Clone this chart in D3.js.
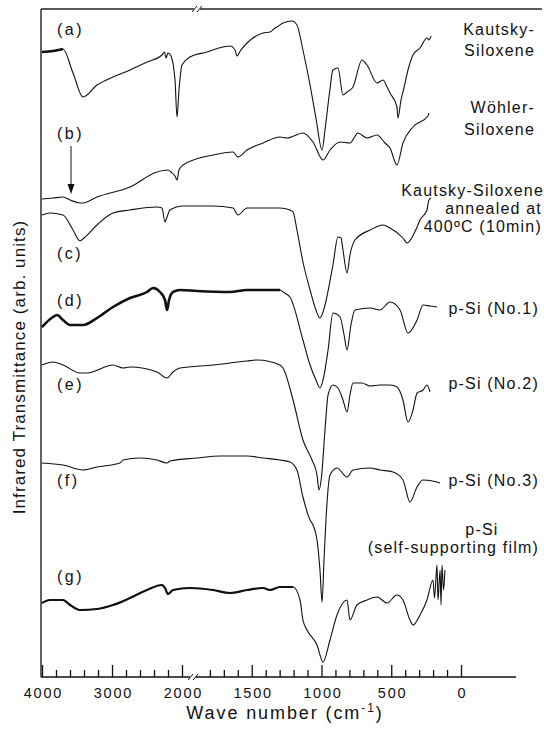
<!DOCTYPE html>
<html>
<head>
<meta charset="utf-8">
<script src="https://cdn.jsdelivr.net/npm/d3@7"></script>
<style>
  body { margin: 0; background: #fff; }
  svg text { font-family: "Liberation Sans", Arial, Helvetica, sans-serif; fill: #111; }
  .spec { fill: none; stroke: #111; stroke-linejoin: round; }
</style>
</head>
<body>
<div class="chart"></div>
<script>
const width = 544;
const height = 733;

// spectra: [wave number (cm-1), transmittance (arb. units)]
const specA = [[4000,62.5],[3843,62.6],[3700,62.8],[3557,60.4],[3414,58.0],[3214,59.2],[2986,60.0],[2743,60.7],[2500,61.5],
  [2286,62.2],[2250,62.5],[2229,61.9],[2200,62.4],[2157,62.1],[2100,59.7],[2071,56.0],[2043,58.7],[2000,61.2],[1943,62.0],
  [1821,62.5],[1706,63.0],[1656,63.1],[1620,62.7],[1606,62.1],[1578,62.7],[1534,63.4],[1419,64.4],[1369,64.5],[1333,64.9],
  [1319,65.0],[1276,65.4],[1212,65.6],[1176,65.2],[1133,62.7],[1082,59.2],[1040,55.9],[996,52.7],[975,54.7],[940,58.7],
  [918,60.7],[882,60.9],[846,58.2],[817,58.5],[774,59.0],[710,61.7],[674,61.2],[602,59.4],[559,59.7],[530,59.0],[509,58.4],
  [459,57.0],[452,55.9],[430,57.7],[409,58.9],[380,60.7],[344,62.2],[294,62.9],[244,63.9],[230,63.7],[215,64.1]];
const specB = [[4000,47.8],[3843,47.9],[3700,48.0],[3600,47.7],[3457,47.4],[3414,47.4],[3214,48.0],[2743,49.0],[2357,50.5],
  [2200,50.7],[2157,50.5],[2100,50.1],[2071,49.7],[2043,50.7],[1993,51.2],[1778,52.2],[1634,52.5],[1599,52.0],[1534,52.7],
  [1419,53.4],[1298,54.0],[1247,53.9],[1133,54.4],[1061,53.5],[989,51.7],[939,52.7],[867,53.5],[796,53.4],[738,54.4],
  [674,53.9],[602,54.2],[545,53.4],[509,52.9],[459,51.2],[416,53.4],[344,55.0],[237,56.1],[230,56.4]];
const specC = [[4000,46.2],[3886,46.4],[3700,46.2],[3557,44.7],[3457,43.6],[3400,43.9],[3214,45.2],[2986,46.4],[2743,46.7],
  [2357,47.0],[2286,46.9],[2243,45.5],[2229,45.7],[2171,46.7],[1993,47.1],[1778,47.1],[1634,46.9],[1599,46.2],[1534,46.9],
  [1298,46.9],[1226,46.7],[1204,46.5],[1176,44.7],[1133,41.5],[1082,38.7],[1040,36.7],[1011,35.9],[989,36.5],[918,41.2],
  [882,44.0],[860,43.9],[846,42.7],[817,40.4],[796,42.2],[760,43.7],[652,44.7],[559,45.2],[509,44.9],[416,43.9],[387,43.4],
  [315,45.0],[294,45.7],[244,46.7],[230,47.7],[215,47.9]];
const specD = [[4000,35.0],[3843,36.0],[3786,36.2],[3700,35.7],[3600,35.2],[3414,35.2],[3214,35.9],[2986,37.0],[2743,37.9],
  [2500,38.5],[2414,38.9],[2314,38.5],[2243,37.7],[2214,36.7],[2185,37.7],[2129,38.5],[2029,38.7],[1892,38.6],[1656,38.5],
  [1534,38.7],[1298,38.7],[1276,38.5],[1226,38.0],[1133,33.7],[1082,31.2],[1040,29.7],[1011,28.9],[989,29.7],[953,32.7],
  [918,36.4],[867,36.0],[838,34.2],[817,32.7],[789,35.2],[760,36.7],[652,36.9],[581,36.7],[509,37.5],[437,36.7],[380,34.4],
  [315,35.7],[272,37.2],[222,37.1],[172,37.0]];
const specE = [[4000,31.2],[3843,31.5],[3700,31.2],[3457,30.4],[3357,30.4],[2986,31.2],[2843,30.9],[2743,31.0],[2357,30.5],
  [2214,29.9],[2129,30.5],[2029,30.9],[1778,31.2],[1534,31.6],[1462,31.7],[1298,31.2],[1276,30.9],[1204,27.7],[1133,23.7],
  [1068,21.7],[1032,20.2],[1018,18.7],[1000,20.0],[975,24.7],[953,28.2],[918,29.2],[882,28.9],[846,27.7],[817,26.5],
  [796,28.2],[774,29.4],[710,29.4],[652,29.1],[581,29.2],[509,29.2],[459,29.0],[416,27.7],[380,25.5],[344,26.7],[315,28.4],
  [272,28.7],[244,29.2],[222,28.5]];
const specF = [[4000,21.4],[3700,21.2],[3414,20.7],[3214,21.0],[2886,21.4],[2843,21.7],[2600,21.9],[2357,21.7],[2214,21.4],
  [2171,21.6],[1892,21.9],[1728,22.1],[1534,22.1],[1419,21.9],[1298,21.7],[1226,21.5],[1176,20.7],[1133,18.0],[1082,15.7],
  [1061,15.2],[1032,13.7],[1011,10.7],[996,7.5],[982,11.7],[968,15.7],[939,20.2],[889,20.9],[817,20.0],[774,20.7],[652,20.9],
  [581,20.7],[487,20.5],[416,19.7],[366,17.5],[315,19.0],[272,19.7],[172,19.5],[150,19.4]];
const specG = [[4000,7.4],[3886,7.7],[3700,7.7],[3600,7.2],[3457,6.7],[3214,6.8],[2986,7.2],[2743,7.9],[2500,8.7],[2286,9.2],
  [2243,8.9],[2200,8.3],[2129,8.7],[1943,8.9],[1778,8.7],[1656,8.4],[1534,8.7],[1419,8.9],[1369,8.7],[1298,9.0],[1204,9.0],
  [1154,7.7],[1133,5.7],[1104,4.7],[1032,3.2],[989,1.5],[939,3.7],[889,6.2],[817,7.7],[796,5.7],[746,7.2],[674,7.7],[602,8.0],
  [530,7.4],[459,8.2],[416,7.7],[366,5.7],[344,5.2],[294,6.2],[244,7.7],[201,9.7],[190,7.9],[172,11.2],[165,7.7],[150,10.7],
  [143,7.2],[136,11.2],[125,8.7],[115,10.7]];

const spectra = [specA, specB, specC, specD, specE, specF, specG];
const letters = ['(a)', '(b)', '(c)', '(d)', '(e)', '(f)', '(g)'];
const majorTicks = [4000, 3000, 2000, 1500, 1000, 500, 0];
const minorTicks = [3800, 3600, 3400, 3200, 2800, 2600, 2400, 2200, 1800, 1700, 1600, 1400, 1300, 1200, 1100,
  900, 800, 700, 600, 400, 300, 200, 100];

// broken axis: 4000-2000 compressed, 2000-0 expanded
const xScale = d3.scaleLinear().domain([4000, 2000, 0]).range([42, 182, 461]);
const yScale = d3.scaleLinear().domain([0, 67]).range([677, 7]);

const svg = d3.select('.chart').append('svg')
    .attr('width', width)
    .attr('height', height)
    .attr('viewBox', `0 0 ${width} ${height}`);

const line = d3.line()
    .x(d => xScale(d[0]))
    .y(d => yScale(d[1]))
    .curve(d3.curveMonotoneX);

// noisy parts are drawn heavier
const heavy = [
    { s: 0, from: 4000, to: 3700, w: 2.6 },
    { s: 3, from: 4000, to: 1290, w: 2.6 },
    { s: 6, from: 4000, to: 1200, w: 2.2 }
];

svg.selectAll('.spec')
    .data(spectra)
    .enter()
    .append('path')
    .attr('class', 'spec')
    .attr('stroke-width', 1.1)
    .attr('d', d => line(d));

heavy.forEach(h => {
    const pts = spectra[h.s].filter(p => p[0] <= h.from && p[0] >= h.to);
    svg.append('path').attr('class', 'spec')
        .attr('stroke-width', h.w)
        .attr('d', line(pts));
});

/*      frame       */
const yTop = yScale(67) + 2;
const yBot = yScale(0);
svg.append('line').attr('x1', 41).attr('x2', 41).attr('y1', yTop).attr('y2', yBot)
    .attr('stroke', '#222').attr('stroke-width', 1.4);
svg.append('line').attr('x1', 41).attr('x2', 542).attr('y1', yTop).attr('y2', yTop)
    .attr('stroke', '#222').attr('stroke-width', 1.4);

/*      x-axis      */
const axisMajor = d3.axisBottom(xScale).tickValues(majorTicks).tickSize(-12).tickFormat(d3.format('d'));
const axisMinor = d3.axisBottom(xScale).tickValues(minorTicks).tickSize(-7).tickFormat('');
const gMaj = svg.append('g').attr('transform', `translate(0, ${yBot})`).call(axisMajor);
const gMin = svg.append('g').attr('transform', `translate(0, ${yBot})`).call(axisMinor);
[gMaj, gMin].forEach(g => {
    g.select('.domain').remove();
    g.selectAll('line').attr('stroke', '#111').attr('stroke-width', 1.3);
});
gMaj.selectAll('text')
    .attr('font-size', 14.5).attr('fill', '#111')
    .attr('letter-spacing', 1.8).attr('dx', 0.9)
    .attr('dy', 0).attr('y', 21);
svg.append('line').attr('x1', 41).attr('x2', 516).attr('y1', yBot).attr('y2', yBot)
    .attr('stroke', '#111').attr('stroke-width', 1.4);

// break marks
function breakMark(x, y) {
    svg.append('rect').attr('x', x - 3).attr('y', y - 2).attr('width', 6).attr('height', 4).attr('fill', '#fff');
    [-2.5, 2.5].forEach(o => {
        svg.append('line').attr('x1', x + o - 2.5).attr('y1', y + 3).attr('x2', x + o + 2.5).attr('y2', y - 3)
            .attr('stroke', '#111').attr('stroke-width', 1);
    });
}
breakMark(193, yBot);
breakMark(197, yTop);

/*      axis titles     */
const xt = svg.append('text').attr('x', 285).attr('y', 719).attr('text-anchor', 'middle')
    .attr('font-size', 18).attr('letter-spacing', 1.9);
xt.append('tspan').text('Wave number (cm');
xt.append('tspan').attr('dy', -7).attr('font-size', 12).text('-1');
xt.append('tspan').attr('dy', 7).text(')');

svg.append('text')
    .attr('transform', 'translate(25, 367) rotate(-90)')
    .attr('text-anchor', 'middle')
    .attr('font-size', 17)
    .attr('letter-spacing', 1.1)
    .text('Infrared Transmittance (arb. units)');

/*      curve letters       */
const letterY = [35, 139, 259, 306, 390, 486, 582];
svg.selectAll('.letter')
    .data(letters)
    .enter()
    .append('text')
    .attr('class', 'letter')
    .attr('x', 57)
    .attr('y', (d, i) => letterY[i])
    .attr('font-size', 16)
    .attr('letter-spacing', 2.5)
    .text(d => d);

// arrow for (b)
svg.append('line').attr('x1', 71).attr('x2', 71).attr('y1', 146).attr('y2', 188)
    .attr('stroke', '#111').attr('stroke-width', 1);
svg.append('path').attr('d', 'M67.5,184 L71,194 L74.5,184 Z').attr('fill', '#111');

/*      sample names        */
const names = [
    { t: 'Kautsky-', x: 535, y: 35, a: 'end' },
    { t: 'Siloxene', x: 535, y: 56, a: 'end' },
    { t: 'Wöhler-', x: 535, y: 113, a: 'end' },
    { t: 'Siloxene', x: 535, y: 135, a: 'end' },
    { t: 'Kautsky-Siloxene', x: 544, y: 196, a: 'end' },
    { t: 'annealed at', x: 542, y: 214, a: 'end' },
    { t: '400ºC (10min)', x: 542, y: 232, a: 'end' },
    { t: 'p-Si (No.1)', x: 539, y: 314, a: 'end' },
    { t: 'p-Si (No.2)', x: 539, y: 389, a: 'end' },
    { t: 'p-Si (No.3)', x: 539, y: 486, a: 'end' },
    { t: 'p-Si', x: 482, y: 535, a: 'middle' },
    { t: '(self-supporting film)', x: 539, y: 553, a: 'end' }
];
svg.selectAll('.name')
    .data(names)
    .enter()
    .append('text')
    .attr('class', 'name')
    .attr('x', d => d.x)
    .attr('y', d => d.y)
    .attr('text-anchor', d => d.a)
    .attr('font-size', 16)
    .attr('letter-spacing', 1.2)
    .text(d => d.t);
</script>
</body>
</html>
